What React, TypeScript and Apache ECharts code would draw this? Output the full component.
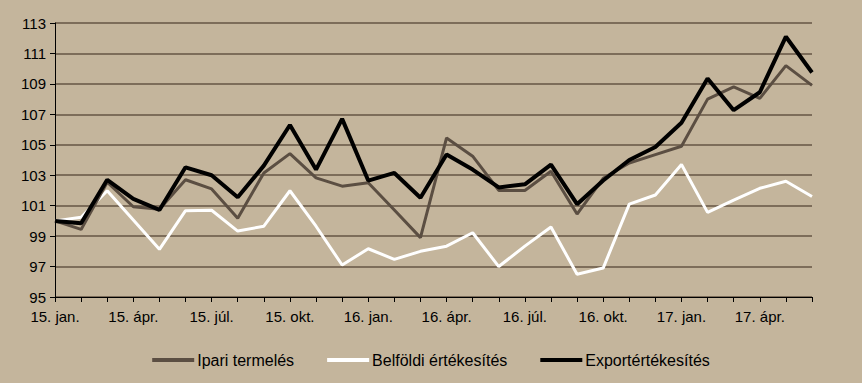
import React, { useEffect, useRef } from "react";
import * as echarts from "echarts";

const years = ["15", "16", "17"];
const monthNames = ["jan.", "febr.", "márc.", "ápr.", "máj.", "jún.", "júl.", "aug.", "szept.", "okt.", "nov.", "dec."];
const categories: string[] = [];
for (const y of years) for (const m of monthNames) categories.push(`${y}. ${m}`);
const months = categories.slice(0, 30);

const ipari = [100.0, 99.44, 102.54, 100.93, 100.76, 102.7, 102.1, 100.17, 103.15, 104.42,
  102.83, 102.28, 102.5, 100.72, 98.9, 105.45, 104.25, 102.0, 102.0, 103.26,
  100.45, 102.8, 103.8, 104.35, 104.9, 108.0, 108.8, 108.05, 110.2, 108.9];
const belfoldi = [100.0, 100.24, 101.98, 100.06, 98.13, 100.67, 100.7, 99.33, 99.65, 101.98,
  99.65, 97.1, 98.17, 97.47, 98.0, 98.34, 99.22, 97.0, 98.34, 99.6,
  96.5, 96.9, 101.1, 101.7, 103.7, 100.56, 101.37, 102.14, 102.6, 101.6];
const export_ = [100.0, 99.85, 102.7, 101.44, 100.72, 103.52, 103.0, 101.55, 103.63, 106.3,
  103.37, 106.7, 102.65, 103.15, 101.52, 104.36, 103.37, 102.2, 102.4, 103.7,
  101.1, 102.65, 104.0, 104.85, 106.45, 109.35, 107.27, 108.45, 112.1, 109.75];

const seriesNames = ["Ipari termelés", "Belföldi értékesítés", "Exportértékesítés"];

export default function App() {
  const ref = useRef<HTMLDivElement>(null);
  useEffect(() => {
    if (!ref.current) return;
    const chart = echarts.init(ref.current, null, { renderer: "svg" });
    const font = "'Liberation Sans', Arial, sans-serif";
    chart.setOption({
      animation: false,
      backgroundColor: "#c4b59c",
      grid: { left: 55, top: 23, right: 50, bottom: 86, containLabel: false },
      legend: {
        top: 347,
        left: "center",
        itemWidth: 42,
        itemHeight: 4,
        itemGap: 33,
        icon: "rect",
        textStyle: { fontFamily: font, fontSize: 16, color: "#000", padding: [0, 0, 0, -2] },
        data: seriesNames,
      },
      xAxis: {
        type: "category",
        data: months,
        boundaryGap: false,
        axisLine: { lineStyle: { color: "#000", width: 1 } },
        axisTick: { show: true, inside: false, length: 5, interval: 0, lineStyle: { color: "#000" } },
        axisLabel: {
          interval: 2,
          fontFamily: font,
          fontSize: 15,
          color: "#000",
          margin: 12,
        },
        splitLine: { show: false },
      },
      yAxis: {
        type: "value",
        min: 95,
        max: 113,
        interval: 2,
        axisLine: { show: true, lineStyle: { color: "#000", width: 1 } },
        axisTick: { show: true, length: 5, lineStyle: { color: "#000" } },
        axisLabel: { fontFamily: font, fontSize: 15, color: "#000", margin: 9 },
        splitLine: { show: true, lineStyle: { color: "#7d6d5a", width: 2 } },
      },
      series: [
        {
          name: seriesNames[0],
          type: "line",
          data: ipari,
          showSymbol: false,
          symbol: "none",
          lineStyle: { color: "#5b4e42", width: 3 },
          itemStyle: { color: "#5b4e42" },
          z: 3,
        },
        {
          name: seriesNames[1],
          type: "line",
          data: belfoldi,
          showSymbol: false,
          symbol: "none",
          lineStyle: { color: "#ffffff", width: 3 },
          itemStyle: { color: "#ffffff" },
          z: 2,
        },
        {
          name: seriesNames[2],
          type: "line",
          data: export_,
          showSymbol: false,
          symbol: "none",
          lineStyle: { color: "#000000", width: 4 },
          itemStyle: { color: "#000000" },
          z: 4,
        },
      ],
    });
    return () => chart.dispose();
  }, []);
  return <div ref={ref} style={{ width: 862, height: 383, position: "absolute", left: 0, top: 0 }} />;
}
